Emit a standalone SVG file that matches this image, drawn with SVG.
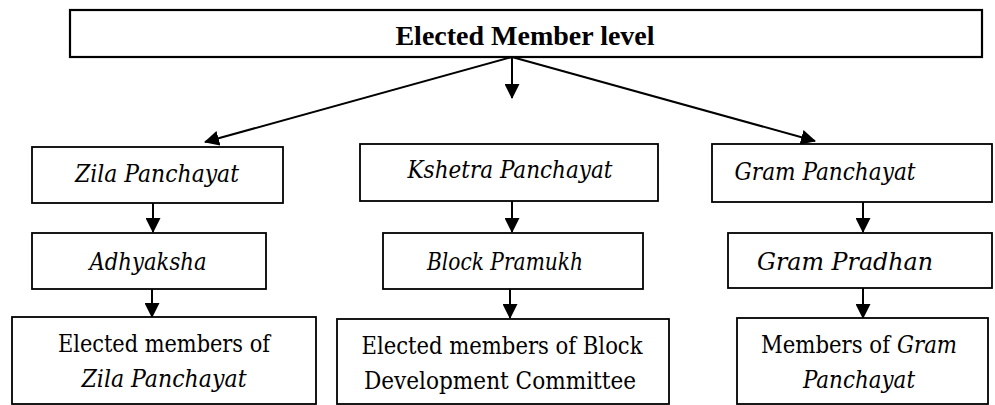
<svg xmlns="http://www.w3.org/2000/svg" width="995" height="405" viewBox="0 0 995 405">
<style>
.box{fill:#fff;stroke:#000;stroke-width:1.8}
.c{stroke:#000;stroke-width:2;fill:none;marker-end:url(#ah)}
text{font-family:'DejaVu Serif Condensed','DejaVu Serif','Liberation Serif',serif}
text.b{font-family:'Liberation Serif','Times New Roman',serif}
</style>
<defs>
<marker id="ah" viewBox="0 0 15 15" markerWidth="15" markerHeight="15" markerUnits="userSpaceOnUse" refX="14" refY="7.5" orient="auto">
<path d="M0,0 L15,7.5 L0,15 z" fill="#000"/>
</marker>
</defs>
<rect width="995" height="405" fill="#fff"/>
<g id="connectors">
<line class="c" x1="512" y1="57" x2="512" y2="98"/>
<line class="c" x1="512" y1="57" x2="205" y2="142"/>
<line class="c" x1="512" y1="57" x2="815" y2="141"/>
<line class="c" x1="153" y1="203" x2="153" y2="232"/>
<line class="c" x1="152" y1="289" x2="152" y2="317"/>
<line class="c" x1="512" y1="201" x2="512" y2="232"/>
<line class="c" x1="510" y1="289" x2="510" y2="318"/>
<line class="c" x1="863" y1="202" x2="863" y2="232"/>
<line class="c" x1="863" y1="288" x2="863" y2="318"/>
</g>
<g font-size="25" text-anchor="middle" fill="#000">
<g id="top">
<rect class="box" x="70" y="10" width="912" height="47" style="stroke-width:2.2"/>
<text class="b" font-weight="bold" font-size="28" x="525" y="45">Elected Member level</text>
</g>
<g id="zila">
<rect class="box" x="32" y="147" width="251" height="56"/>
<text font-style="italic" x="157" y="182" textLength="164" lengthAdjust="spacingAndGlyphs">Zila Panchayat</text>
</g>
<g id="kshetra">
<rect class="box" x="360" y="144" width="298" height="57"/>
<text font-style="italic" x="510" y="178" textLength="205" lengthAdjust="spacingAndGlyphs">Kshetra Panchayat</text>
</g>
<g id="gram">
<rect class="box" x="712" y="144" width="280" height="58"/>
<text font-style="italic" x="825" y="180" textLength="181" lengthAdjust="spacingAndGlyphs">Gram Panchayat</text>
</g>
<g id="adhyaksha">
<rect class="box" x="32" y="233" width="234" height="56"/>
<text font-style="italic" x="148" y="270" textLength="117" lengthAdjust="spacingAndGlyphs">Adhyaksha</text>
</g>
<g id="pramukh">
<rect class="box" x="383" y="233" width="260" height="56"/>
<text font-style="italic" x="505" y="270" textLength="156" lengthAdjust="spacingAndGlyphs">Block Pramukh</text>
</g>
<g id="pradhan">
<rect class="box" x="728" y="233" width="264" height="55"/>
<text font-style="italic" x="845" y="270" textLength="176" lengthAdjust="spacingAndGlyphs">Gram Pradhan</text>
</g>
<g id="zila-members">
<rect class="box" x="12" y="317" width="304" height="87"/>
<text x="164" y="352" textLength="212" lengthAdjust="spacingAndGlyphs">Elected members of</text>
<text font-style="italic" x="164" y="387" textLength="165" lengthAdjust="spacingAndGlyphs">Zila Panchayat</text>
</g>
<g id="block-members">
<rect class="box" x="337" y="319" width="332" height="85"/>
<text x="502" y="354" textLength="281" lengthAdjust="spacingAndGlyphs">Elected members of Block</text>
<text x="500" y="389" textLength="272" lengthAdjust="spacingAndGlyphs">Development Committee</text>
</g>
<g id="gram-members">
<rect class="box" x="737" y="318" width="251" height="86"/>
<text x="761" y="353" text-anchor="start" textLength="129" lengthAdjust="spacingAndGlyphs">Members of</text>
<text font-style="italic" x="897" y="353" text-anchor="start" textLength="60" lengthAdjust="spacingAndGlyphs">Gram</text>
<text font-style="italic" x="859" y="388" textLength="112" lengthAdjust="spacingAndGlyphs">Panchayat</text>
</g>
</g>
</svg>
